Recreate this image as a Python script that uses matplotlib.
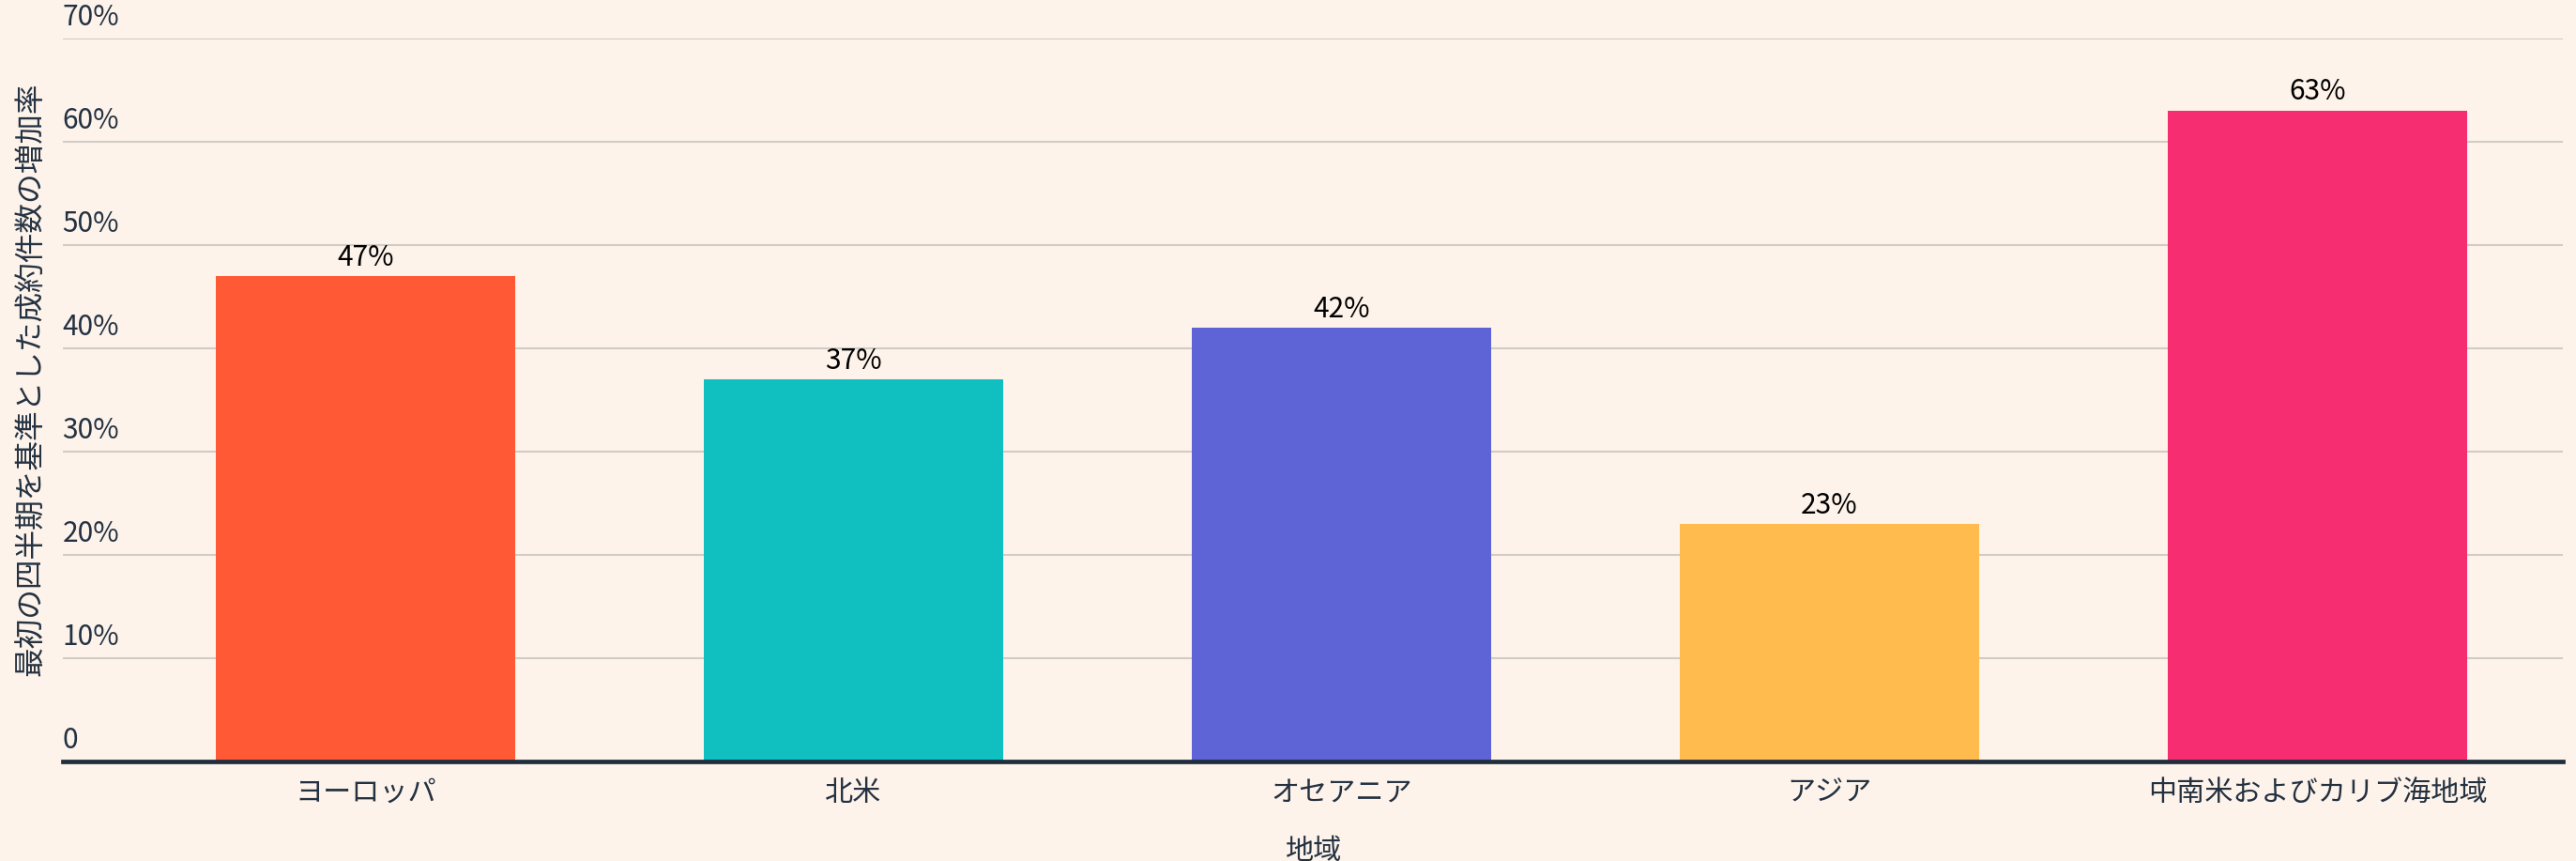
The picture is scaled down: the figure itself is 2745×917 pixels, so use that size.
import matplotlib
matplotlib.use("Agg")
import matplotlib.pyplot as plt
from matplotlib.transforms import ScaledTranslation

plt.rcParams['font.family'] = ['Noto Sans CJK JP', 'DejaVu Sans']

# Data
regions = ["ヨーロッパ", "北米", "オセアニア", "アジア", "中南米およびカリブ海地域"]
growth = [47, 37, 42, 23, 63]
bar_colors = ["#FF5A35", "#10BFBF", "#5E63D6", "#FFBB4E", "#F72D72"]
y_ticks = [0, 10, 20, 30, 40, 50, 60, 70]
y_tick_labels = ["0", "10%", "20%", "30%", "40%", "50%", "60%", "70%"]

bg = "#FDF3EA"
text_dark = "#233141"
grid_col = "#D0CCC6"

fig = plt.figure(figsize=(27.45, 9.17), dpi=100, facecolor=bg)
ax = fig.add_axes([0.02423, 0.1156, 0.9707, 0.8402])
ax.set_facecolor(bg)

x = list(range(len(regions)))
bars = ax.bar(x, growth, width=0.615, color=bar_colors, zorder=2)

for xi, v in zip(x, growth):
    ax.annotate(f"{v}%", (xi, v), xytext=(0, 3), textcoords="offset points",
                ha="center", va="bottom", fontsize=21.5, color="black", zorder=4)

ax.set_xlim(-0.621, 4.503)
ax.set_ylim(0, 70)

ax.set_yticks(y_ticks)
ax.set_yticklabels(y_tick_labels, fontsize=21.5, color=text_dark)
ax.tick_params(axis="y", length=0, pad=0)
offset = ScaledTranslation(0, 5 / 72, fig.dpi_scale_trans)
for lbl in ax.get_yticklabels():
    lbl.set_horizontalalignment("left")
    lbl.set_verticalalignment("bottom")
    lbl.set_transform(lbl.get_transform() + offset)

ax.set_xticks(x)
ax.set_xticklabels(regions, fontsize=21.7, color=text_dark)
ax.tick_params(axis="x", length=0, pad=13)

ax.grid(axis="y", color=grid_col, linewidth=1.5, zorder=0)
ax.set_axisbelow(True)
for s in ["top", "right", "left", "bottom"]:
    ax.spines[s].set_visible(False)
ax.axhline(0, color="#1F2D3D", linewidth=3.4, zorder=3, clip_on=False)

ax.set_xlabel("地域", fontsize=21.7, color=text_dark, labelpad=22)
ax.set_ylabel("最初の四半期を基準とした成約件数の増加率", fontsize=22.8,
              color=text_dark)
ax.yaxis.set_label_coords(-0.0066, 0.528)

fig.savefig("out.png", dpi=100, facecolor=bg)
